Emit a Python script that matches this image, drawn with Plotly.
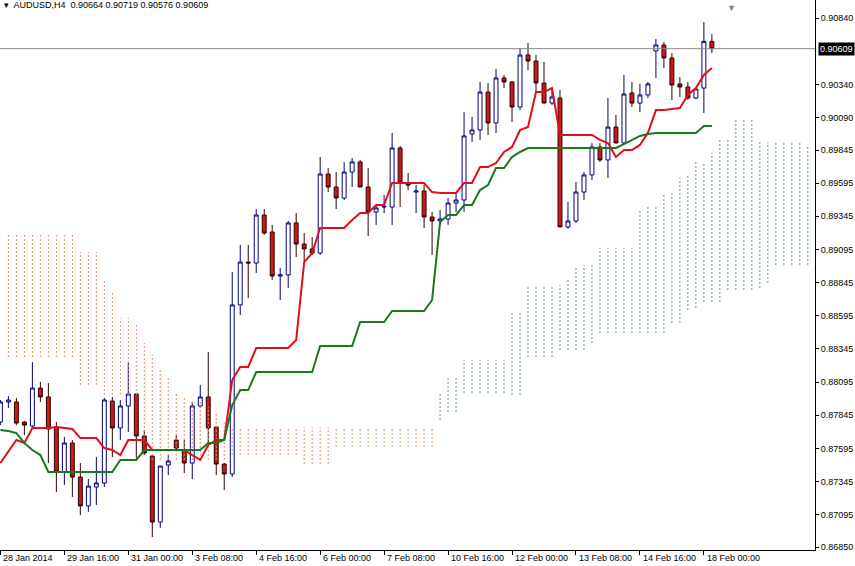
import plotly.graph_objects as go

# AUDUSD H4, bar index 0..89 (cloud is drawn 12 bars further)
opens = [.87794, .87945, .87945, .87794, .87764, .88050, .87983, .87756, .87417, .87636,
         .87379, .87161, .87304, .87334, .87952, .87749, .87915, .88005, .87689, .87538,
         .87040, .87470, .87658, .87583, .87485, .87915, .87983, .87756, .87477, .87402,
         .88677, .89000, .88993, .89355, .89227, .88895, .88903, .89295, .89136, .89099,
         .89068, .89664, .89566, .89483, .89679, .89755, .89566, .89378, .89415, .89415,
         .89860, .89589, .89528, .89536, .89340, .89310, .89325, .89445, .89468, .89966,
         .89996, .90282, .90049, .90388, .90358, .90169, .90561, .90516, .90350, .90199,
         .90237, .89265, .89310, .89528, .89657, .89868, .89770, .90018, .89898, .90275,
         .90199, .90260, .90592, .90637, .90539, .90343, .90320, .90237, .90312, .90664]
highs = [.87960, .87990, .87975, .87802, .88246, .88096, .88088, .87794, .87681, .87658,
         .87485, .87364, .87530, .87975, .87983, .87960, .88239, .88013, .87734, .87545,
         .87462, .87545, .87696, .87658, .87945, .88073, .88322, .87764, .87485, .88925,
         .89129, .89129, .89400, .89400, .89280, .88955, .89310, .89370, .89219, .89189,
         .89792, .89709, .89679, .89755, .89785, .89770, .89709, .89430, .89506, .89974,
         .89875, .89672, .89581, .89581, .89378, .89393, .89483, .89521, .90131, .90094,
         .90358, .90350, .90456, .90411, .90365, .90614, .90652, .90561, .90509, .90312,
         .90297, .89453, .89604, .89679, .89898, .89898, .90237, .90109, .90411, .90358,
         .90343, .90358, .90682, .90659, .90576, .90395, .90358, .90305, .90810, .90719]
lows = [.87771, .87900, .87771, .87696, .87756, .87945, .87485, .87266, .87319, .87228,
        .87093, .87116, .87168, .87304, .87530, .87658, .87719, .87523, .87545, .86927,
        .86995, .87394, .87583, .87409, .87364, .87900, .87636, .87394, .87281, .87380,
        .88601, .88729, .88918, .89205, .88865, .88714, .88805, .89038, .89000, .89053,
        .89053, .89528, .89400, .89468, .89566, .89566, .89197, .89280, .89370, .89280,
        .89415, .89543, .89370, .89257, .89053, .89280, .89280, .89378, .89378, .89906,
        .89921, .89958, .89974, .90312, .90056, .90146, .90448, .90282, .90199, .90184,
        .89265, .89250, .89295, .89468, .89619, .89755, .89634, .89898, .89890, .90169,
        .90131, .90237, .90388, .90463, .90222, .90245, .90222, .90230, .90124, .90576]
closes = [.87945, .87960, .87786, .87771, .88050, .87983, .87741, .87417, .87636, .87379,
          .87161, .87311, .87334, .87960, .87749, .87915, .88005, .87689, .87560, .87040,
          .87462, .87500, .87598, .87485, .87915, .87983, .87749, .87477, .87402, .88677,
          .89000, .88993, .89355, .89219, .88895, .88903, .89295, .89136, .89099, .89068,
          .89664, .89566, .89483, .89679, .89755, .89566, .89378, .89408, .89420, .89860,
          .89596, .89581, .89536, .89340, .89310, .89325, .89445, .89468, .89951, .89996,
          .90282, .90049, .90388, .90358, .90169, .90561, .90516, .90350, .90199, .90245,
          .89265, .89310, .89528, .89657, .89868, .89770, .90018, .89898, .90267, .90199,
          .90260, .90343, .90637, .90539, .90335, .90320, .90237, .90305, .90664, .90609]

tenkan = [.87485, .87568, .87658, .87636, .87749, .87749, .87749, .87756, .87749, .87741,
          .87673, .87673, .87673, .87598, .87583, .87545, .87658, .87658, .87658, .87583,
          .87583, .87583, .87583, .87583, .87545, .87508, .87621, .87658, .87658, .88111,
          .88209, .88209, .88352, .88352, .88352, .88352, .88352, .88412, .89000, .89068,
          .89257, .89257, .89257, .89257, .89317, .89370, .89370, .89430, .89430, .89596,
          .89596, .89596, .89596, .89596, .89528, .89521, .89521, .89521, .89596, .89596,
          .89716, .89716, .89747, .89830, .89868, .89996, .90018, .90282, .90282, .90312,
          .89958, .89958, .89958, .89958, .89958, .89921, .89898, .89792, .89845, .89845,
          .89883, .89974, .90146, .90146, .90154, .90161, .90260, .90312, .90411, .90463]
kijun = [.87734, .87726, .87711, .87636, .87583, .87545, .87417, .87417, .87417, .87417,
         .87417, .87417, .87417, .87417, .87417, .87508, .87508, .87508, .87583, .87583,
         .87583, .87583, .87583, .87583, .87583, .87583, .87636, .87636, .87658, .87922,
         .88035, .88035, .88171, .88171, .88171, .88171, .88171, .88171, .88171, .88171,
         .88367, .88367, .88367, .88367, .88367, .88548, .88548, .88548, .88548, .88631,
         .88631, .88631, .88631, .88631, .88714, .89302, .89355, .89355, .89430, .89430,
         .89543, .89581, .89709, .89709, .89792, .89830, .89860, .89860, .89860, .89860,
         .89860, .89860, .89860, .89860, .89860, .89860, .89860, .89860, .89890, .89921,
         .89951, .89966, .89974, .89974, .89974, .89974, .89974, .89974, .90026, .90026]

# cloud, bars 1..54 (span A above B) then bars 55..101 (span B above A)
cloud_up_a = [.89204, .89204, .89204, .89204, .89204, .89204, .89204, .89204, .89204,
              .89076, .89076, .89076, .88865, .88767, .88578, .88578, .88525, .88390,
              .88299, .88186, .88133, .88012, .87975, .87945, .87945, .87907, .87870,
              .87809, .87756, .87756, .87756, .87756, .87756, .87756, .87756, .87756,
              .87756, .87756, .87756, .87756, .87756, .87756, .87756, .87756, .87756,
              .87756, .87756, .87756, .87756, .87756, .87756, .87756, .87756, .87756]
cloud_lo_a = [.88284, .88284, .88284, .88284, .88284, .88284, .88284, .88284, .88284,
              .88073, .88073, .88073, .87998, .87998, .87998, .87998, .87998, .87658,
              .87508, .87508, .87508, .87508, .87508, .87508, .87508, .87508, .87508,
              .87508, .87545, .87545, .87545, .87545, .87545, .87545, .87545, .87545,
              .87545, .87477, .87477, .87477, .87477, .87606, .87606, .87606, .87606,
              .87606, .87606, .87606, .87606, .87606, .87606, .87606, .87606, .87606]
cloud_up_b = [.88020, .88126, .88126, .88262, .88262, .88262, .88262, .88262, .88262,
              .88616, .88616, .88812, .88812, .88812, .88812, .88827, .88880, .88955,
              .88978, .88978, .89106, .89106, .89106, .89106, .89106, .89400, .89430,
              .89430, .89521, .89521, .89634, .89657, .89755, .89755, .89823, .89936,
              .89936, .90071, .90071, .90086, .89905, .89905, .89905, .89905, .89905,
              .89905, .89883]
cloud_lo_b = [.87809, .87870, .87870, .88012, .88012, .88012, .88012, .88012, .88012,
              .87998, .87998, .88284, .88284, .88284, .88284, .88337, .88337, .88337,
              .88337, .88390, .88465, .88465, .88465, .88465, .88465, .88465, .88465,
              .88465, .88465, .88541, .88541, .88639, .88654, .88699, .88699, .88699,
              .88790, .88790, .88790, .88790, .88805, .88843, .88978, .88978, .88978,
              .88978, .88978]

date_ticks = ["28 Jan 2014", "29 Jan 16:00", "31 Jan 00:00", "3 Feb 08:00", "4 Feb 16:00",
              "6 Feb 00:00", "7 Feb 08:00", "10 Feb 16:00", "12 Feb 00:00", "13 Feb 08:00",
              "14 Feb 16:00", "18 Feb 00:00"]
price_ticks = [0.90840, 0.90340, 0.90090, 0.89845, 0.89595, 0.89345, 0.89095, 0.88845,
               0.88595, 0.88345, 0.88095, 0.87845, 0.87595, 0.87345, 0.87095, 0.86850]
last_price = 0.90609

bars = list(range(len(opens)))
font = "Liberation Sans"


def cloud_xy(start, up, lo):
    xs, ys = [], []
    for k in range(len(up)):
        xs += [start + k, start + k, None]
        ys += [lo[k], up[k], None]
    return xs, ys


fig = go.Figure()

xa, ya = cloud_xy(1, cloud_up_a, cloud_lo_a)
fig.add_trace(go.Scatter(x=xa, y=ya, mode="lines", hoverinfo="skip",
                         line=dict(color="rgb(222,140,100)", width=1, dash="2px,2px")))
xb, yb = cloud_xy(1 + len(cloud_up_a), cloud_up_b, cloud_lo_b)
fig.add_trace(go.Scatter(x=xb, y=yb, mode="lines", hoverinfo="skip",
                         line=dict(color="rgb(90,150,150)", width=1, dash="2px,2px")))

fig.add_hline(y=last_price, line=dict(color="#8a8a8a", width=1))

fig.add_trace(go.Candlestick(
    x=bars, open=opens, high=highs, low=lows, close=closes, whiskerwidth=0,
    increasing=dict(line=dict(color="#000080", width=1), fillcolor="white"),
    decreasing=dict(line=dict(color="#300000", width=1), fillcolor="#cc1818")))

fig.add_trace(go.Scatter(x=bars, y=tenkan, mode="lines", line=dict(color="#e0101a", width=2)))
fig.add_trace(go.Scatter(x=bars, y=kijun, mode="lines", line=dict(color="#1a7a1a", width=2)))

for k, t in enumerate(date_ticks):
    fig.add_annotation(x=k * 8, y=0, yref="paper", text=t, showarrow=False,
                       xanchor="left", yanchor="top", xshift=1, yshift=-1,
                       font=dict(family=font, size=9, color="black"))

fig.add_annotation(x=1, xref="paper", y=last_price, text="0.90609", showarrow=False,
                   xanchor="left", xshift=3, bgcolor="black", borderpad=1,
                   font=dict(family=font, size=9, color="white"))
fig.add_annotation(x=0, xref="paper", y=1, yref="paper", showarrow=False,
                   text="▾  AUDUSD,H4  0.90664 0.90719 0.90576 0.90609",
                   xanchor="left", yanchor="top", xshift=2, yshift=2,
                   font=dict(family=font, size=9, color="black"))
fig.add_annotation(x=91.5, y=1, yref="paper", showarrow=False, text="▼",
                   yanchor="top", yshift=1, font=dict(size=9, color="#808890"))

fig.update_layout(
    width=855, height=566, showlegend=False,
    margin=dict(l=0, r=40, t=0, b=16, autoexpand=False),
    paper_bgcolor="white", plot_bgcolor="white",
    xaxis=dict(range=[-0.05, 101.9], showgrid=False, zeroline=False, rangeslider_visible=False,
               automargin=False, showline=True, linecolor="black", linewidth=1,
               tickvals=[k * 8 for k in range(len(date_ticks))], showticklabels=False,
               ticks="outside", ticklen=4, tickcolor="black"),
    yaxis=dict(range=[0.86829, 0.90976], side="right", showgrid=False, zeroline=False,
               automargin=False, showline=True, linecolor="black", linewidth=1,
               tickvals=price_ticks, ticktext=["%.5f" % v for v in price_ticks],
               ticks="outside", ticklen=3, tickcolor="black",
               tickfont=dict(family=font, size=9, color="black")),
)

fig.write_html("out.html", config={"displayModeBar": False},
               post_script="document.body.style.margin='0';")
